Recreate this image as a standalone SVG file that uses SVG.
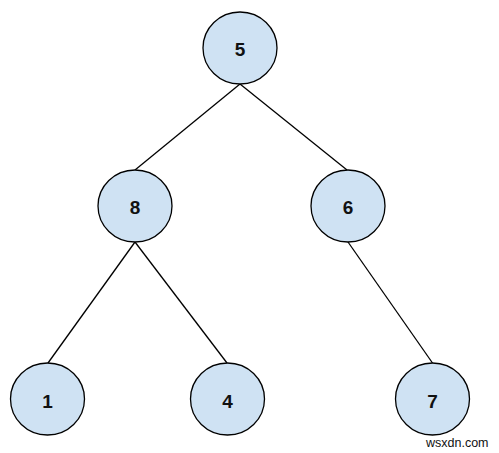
<svg xmlns="http://www.w3.org/2000/svg" width="499" height="453" viewBox="0 0 499 453">
<style>
.node ellipse{fill:#cfe2f3;stroke:#000;stroke-width:1.3}
.node text{font-family:"Liberation Sans",Arial,sans-serif;font-size:19px;font-weight:bold;fill:#111;text-anchor:middle}
.edges line{stroke:#000;stroke-width:1.3}
.wm{font-family:"Liberation Sans",Arial,sans-serif;font-size:12.5px;fill:#111}
</style>
<rect width="499" height="453" fill="#fff"/>
<g class="edges">
<line x1="240" y1="84" x2="135" y2="170"/>
<line x1="240" y1="84" x2="347" y2="170"/>
<line x1="135" y1="242" x2="48" y2="363"/>
<line x1="135" y1="242" x2="227" y2="363"/>
<line x1="348" y1="242" x2="432.5" y2="363"/>
</g>
<g id="n5" class="node"><ellipse cx="240" cy="48" rx="37" ry="36"/><text x="240" y="56">5</text></g>
<g id="n8" class="node"><ellipse cx="135" cy="206" rx="37" ry="36"/><text x="135" y="214">8</text></g>
<g id="n6" class="node"><ellipse cx="348" cy="206" rx="37" ry="36"/><text x="348" y="214">6</text></g>
<g id="n1" class="node"><ellipse cx="47.5" cy="399" rx="37" ry="36"/><text x="47.5" y="408">1</text></g>
<g id="n4" class="node"><ellipse cx="227.5" cy="399" rx="37" ry="36"/><text x="227.5" y="408">4</text></g>
<g id="n7" class="node"><ellipse cx="432.5" cy="399" rx="37" ry="36"/><text x="432.5" y="408">7</text></g>
<text class="wm" x="426" y="447">wsxdn.com</text>
</svg>
